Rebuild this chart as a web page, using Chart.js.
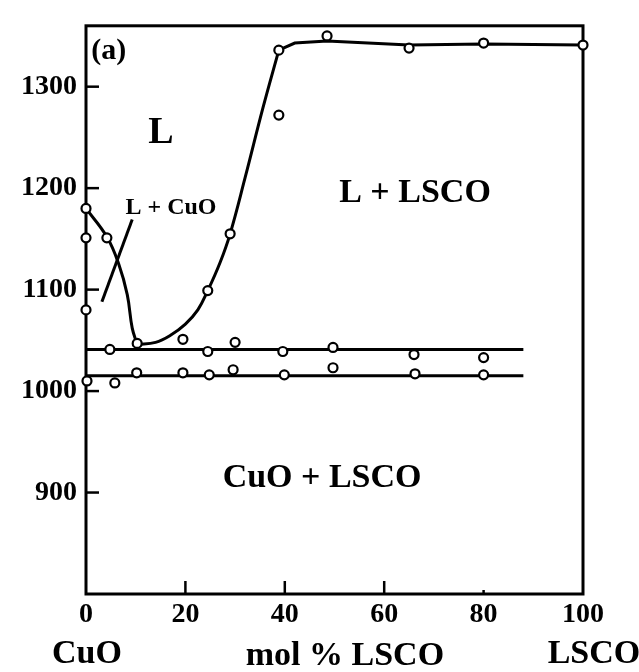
<!DOCTYPE html>
<html>
<head>
<meta charset="utf-8">
<script src="https://cdn.jsdelivr.net/npm/chart.js@4.4.0/dist/chart.umd.min.js"></script>
<style>
  html, body { margin: 0; padding: 0; background: #fff; }
</style>
</head>
<body>
<canvas id="myChart" width="639" height="672"></canvas>
<script>
        // Ejes
        var xTicks = [0, 20, 40, 60, 80, 100];
        var yTicks = [900, 1000, 1100, 1200, 1300];

        // Liquidus, rama del CuO (curva trazada)
        var liqCuoX = [0, 4.2, 6.6, 8.3, 9.3, 10.3];
        var liqCuoY = [1180, 1152, 1125, 1095, 1062, 1046];

        // Liquidus, rama del LSCO (curva trazada)
        var liqLscoX = [10.3, 14, 17, 20, 22.5, 24.5, 27, 29, 32, 35.6, 38.8];
        var liqLscoY = [1046, 1048, 1055, 1066, 1080, 1099, 1127, 1155, 1210, 1279, 1336];

        // Liquidus, tramo casi horizontal
        var liqTopX = [38.8, 42, 48.5, 65, 80, 100];
        var liqTopY = [1336, 1343, 1345, 1341, 1342, 1341];

        // Lineas horizontales (eutectico y solidus)
        var eutX = [0, 88];
        var eutY = [1041, 1041];
        var solX = [0, 88];
        var solY = [1015, 1015];

        // Linea que senala "L + CuO"
        var leaderX = [3.2, 9.3];
        var leaderY = [1088, 1169];

        // Puntos medidos
        var liqPtsX = [0, 0, 0, 4.2, 24.5, 29, 38.8, 38.8, 48.5, 65, 80, 100];
        var liqPtsY = [1180, 1151, 1080, 1151, 1099, 1155, 1336, 1272, 1350, 1338, 1343, 1341];
        var eutPtsX = [4.8, 10.3, 19.5, 24.5, 30, 39.6, 49.7, 66, 80];
        var eutPtsY = [1041, 1047, 1051, 1039, 1048, 1039, 1043, 1036, 1033];
        var solPtsX = [0.2, 5.8, 10.2, 19.5, 24.8, 29.6, 39.9, 49.7, 66.2, 80];
        var solPtsY = [1010, 1008, 1018, 1018, 1016, 1021, 1016, 1023, 1017, 1016];

        function pts(xs, ys) {
            return xs.map(function (x, i) { return { x: x, y: ys[i] }; });
        }

        var serif = "'Liberation Serif', 'DejaVu Serif', serif";

        // Textos dentro del diagrama (en unidades de datos)
        var notes = [
            { text: '(a)', x: 4.6, y: 1335, size: 30 },
            { text: 'L', x: 15.1, y: 1254, size: 38 },
            { text: 'L + CuO', x: 17.1, y: 1181, size: 24 },
            { text: 'L + LSCO', x: 66.2, y: 1195, size: 34 },
            { text: 'CuO + LSCO', x: 47.5, y: 914, size: 34 },
            { text: 'CuO', x: 0.2, y: 741, size: 34 },
            { text: 'mol % LSCO', x: 52.1, y: 739, size: 34 },
            { text: 'LSCO', x: 102.2, y: 741, size: 34 }
        ];

        function lineSet(xs, ys, tension) {
            return {
                type: 'line',
                data: pts(xs, ys),
                showLine: true,
                borderColor: '#000',
                borderWidth: 3,
                pointRadius: 0,
                fill: false,
                clip: false,
                tension: tension,
                order: 2
            };
        }

        function pointSet(xs, ys) {
            return {
                type: 'scatter',
                data: pts(xs, ys),
                showLine: false,
                pointRadius: 4.5,
                pointBackgroundColor: '#fff',
                pointBorderColor: '#000',
                pointBorderWidth: 2.2,
                clip: false,
                order: 1
            };
        }

        var framePlugin = {
            id: 'frame',
            beforeDatasetsDraw: function (chart) {
                var ctx = chart.ctx, a = chart.chartArea;
                var xs = chart.scales.x, ys = chart.scales.y;
                ctx.save();
                ctx.strokeStyle = '#000';
                ctx.lineWidth = 3;
                ctx.strokeRect(a.left, a.top, a.right - a.left, a.bottom - a.top);
                // marcas hacia dentro
                ctx.lineWidth = 2.5;
                yTicks.forEach(function (v) {
                    var py = ys.getPixelForValue(v);
                    ctx.beginPath();
                    ctx.moveTo(a.left, py);
                    ctx.lineTo(a.left + 13, py);
                    ctx.stroke();
                });
                [20, 40, 60, 80].forEach(function (v) {
                    var px = xs.getPixelForValue(v);
                    ctx.beginPath();
                    ctx.moveTo(px, a.bottom);
                    ctx.lineTo(px, a.bottom - (v === 80 ? 4 : 13));
                    ctx.stroke();
                });
                ctx.restore();
            },
            afterDraw: function (chart) {
                var ctx = chart.ctx;
                var xs = chart.scales.x, ys = chart.scales.y;
                ctx.save();
                ctx.fillStyle = '#000';
                ctx.textAlign = 'center';
                ctx.textBaseline = 'middle';
                notes.forEach(function (n) {
                    ctx.font = 'bold ' + n.size + 'px ' + serif;
                    ctx.fillText(n.text, xs.getPixelForValue(n.x), ys.getPixelForValue(n.y));
                });
                ctx.restore();
            }
        };

        var config = {
            type: 'scatter',
            data: {
                datasets: [
                    pointSet(liqPtsX, liqPtsY),
                    pointSet(eutPtsX, eutPtsY),
                    pointSet(solPtsX, solPtsY),
                    lineSet(liqCuoX, liqCuoY, 0.4),
                    lineSet(liqLscoX, liqLscoY, 0.4),
                    lineSet(liqTopX, liqTopY, 0),
                    lineSet(eutX, eutY, 0),
                    lineSet(solX, solY, 0),
                    lineSet(leaderX, leaderY, 0)
                ]
            },
            options: {
                responsive: false,
                animation: false,
                layout: { padding: { left: 0, right: 56, top: 19, bottom: 0 } },
                plugins: {
                    legend: { display: false },
                    tooltip: { enabled: false }
                },
                scales: {
                    x: {
                        type: 'linear',
                        min: 0,
                        max: 100,
                        grid: { display: false, drawTicks: false },
                        border: { display: false },
                        afterBuildTicks: function (s) {
                            s.ticks = xTicks.map(function (v) { return { value: v }; });
                        },
                        afterFit: function (s) { s.height = 78; },
                        ticks: {
                            padding: 4,
                            color: '#000',
                            maxRotation: 0,
                            callback: function (v) { return String(v); },
                            font: { family: serif, size: 28, weight: 'bold' }
                        }
                    },
                    y: {
                        type: 'linear',
                        min: 800,
                        max: 1360,
                        grid: { display: false, drawTicks: false },
                        border: { display: false },
                        afterBuildTicks: function (s) {
                            s.ticks = yTicks.map(function (v) { return { value: v }; });
                        },
                        afterFit: function (s) { s.width = 86; },
                        ticks: {
                            padding: 9,
                            color: '#000',
                            callback: function (v) { return String(v); },
                            font: { family: serif, size: 28, weight: 'bold' }
                        }
                    }
                }
            },
            plugins: [framePlugin]
        };

        var myChart = new Chart(document.getElementById('myChart'), config);
</script>
</body>
</html>
